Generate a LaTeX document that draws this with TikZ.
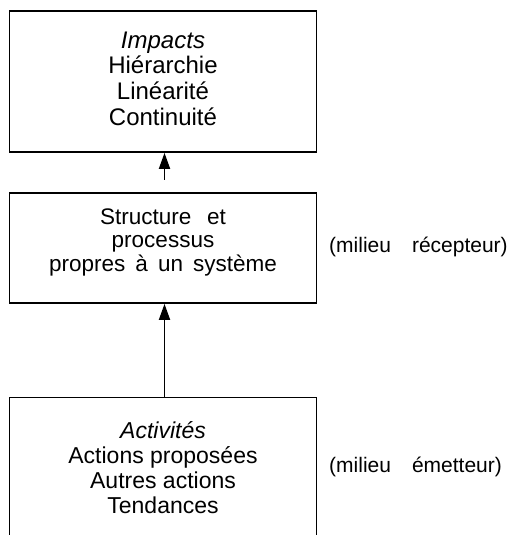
\documentclass[tikz,border=0pt]{standalone}
\usepackage{fontspec}
\setmainfont{Liberation Sans}
\usetikzlibrary{arrows.meta}
\begin{document}
\begin{tikzpicture}[x=1pt,y=1pt,
  frame/.style={draw=black, line width=1.8pt, minimum width=307pt, inner sep=0pt},
  txt/.style={align=center, font=\fontsize{23}{25}\selectfont, inner sep=0pt},
  toptxt/.style={align=center, font=\fontsize{24}{25.7}\selectfont, inner sep=0pt},
  side/.style={anchor=west, font=\fontsize{21}{25}\selectfont, inner sep=0pt},
  link/.style={line width=1.8pt, -{Triangle[length=16pt,width=11pt]}}]
\useasboundingbox (0,0) rectangle (510,535);
\clip (0,0) rectangle (510,535);

% the three frames
\node[frame, minimum height=141pt] (impacts) at (163,453.5) {};
\node[frame, minimum height=110pt] (systeme) at (163,287) {};
\node[frame, minimum height=170pt] (activites) at (163,52.5) {};

% texts of the frames
\node[toptxt] (timpacts) at (163,456.5) {\textit{Impacts}\\Hiérarchie\\Linéarité\\Continuité};
\node[txt, font=\fontsize{22.5}{23.5}\selectfont] (tsysteme) at (163,293) {Structure\hspace{0.7em}et\\processus\\propres\hspace{0.45em}à\hspace{0.45em}un\hspace{0.45em}système};
\node[txt] (tactivites) at (163,67) {\textit{Activités}\\Actions proposées\\Autres actions\\Tendances};

% side labels
\node[side] (recepteur) at (329,288) {(milieu\hspace{1em}récepteur)};
\node[side] (emetteur) at (329,68) {(milieu\hspace{1em}émetteur)};

% connectors
\coordinate (depart) at ([xshift=1.5pt,yshift=-27pt]impacts.south);
\draw[link] (depart) -- ([xshift=1.5pt]impacts.south);
\draw[link] ([xshift=1.5pt]activites.north) -- ([xshift=1.5pt]systeme.south);
\end{tikzpicture}
\end{document}
